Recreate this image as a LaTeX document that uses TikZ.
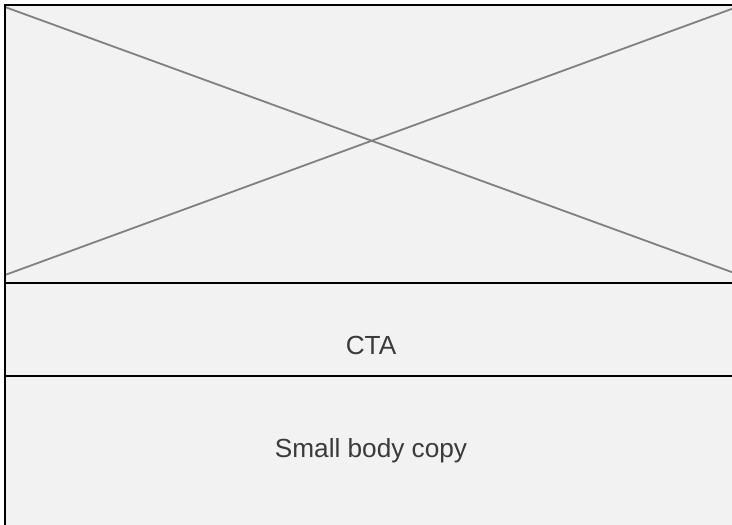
\documentclass[tikz,border=0pt]{standalone}
\usepackage{fontspec}
\setmainfont{Liberation Sans}
\definecolor{panelfill}{HTML}{F2F2F2}
\definecolor{crossgray}{HTML}{808080}
\definecolor{labeltext}{HTML}{3A3A3A}
\tikzset{
  panel/.style={fill=panelfill, draw=none},
  frame/.style={draw=black, line width=2pt},
  cross/.style={draw=crossgray, line width=1.8pt},
  label/.style={font=\fontsize{26.2}{30}\selectfont, text=labeltext, inner sep=0pt}
}
\begin{document}
\begin{tikzpicture}[x=1pt, y=-1pt]
  \useasboundingbox (0,0) rectangle (732,525);
  \begin{scope}
    \clip (0,0) rectangle (732,525);
    % wireframe body, running past the right and bottom edges
    \fill[panel] (5,5) rectangle (745,540);
    % image placeholder cross
    \draw[cross] (5,7) -- (737,274);
    \draw[cross] (5,275) -- (737,7);
    % outer frame: top and left edges only
    \draw[frame] (745,5) -- (5,5) -- (5,540);
    % section dividers
    \draw[frame] (5,283) -- (745,283);
    \draw[frame] (5,376) -- (745,376);
  \end{scope}
  \node[label] (cta) at (371,345) {CTA};
  \node[label] (body) at (371,451) {Small body copy};
\end{tikzpicture}
\end{document}
